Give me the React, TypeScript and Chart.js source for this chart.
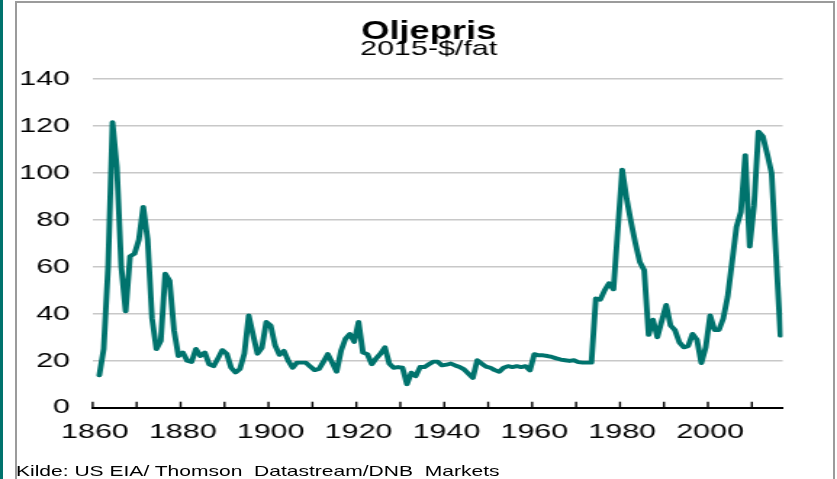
import React, { useEffect, useRef } from "react";
import { Chart, registerables } from "chart.js";

Chart.register(...registerables);

const TITLE = "Oljepris";
const SUBTITLE = "2015-$/fat";
const SOURCE = "Kilde: US EIA/ Thomson  Datastream/DNB  Markets";

const FIRST_YEAR = 1861;
// Oil price, 2015-$ per barrel, 1861..2016
const PRICES = [
  13.8, 25, 60, 121.5, 102.5, 60, 41, 64.5, 65.5, 71.5,
  85.5, 71.5, 38, 25, 28.5, 57, 54, 33, 22, 23.5,
  20, 19.5, 25, 22, 23.5, 18.5, 17.7, 21, 24.5, 23,
  17, 15, 16.5, 23, 39.3, 31, 23, 25.5, 36.5, 35,
  26.5, 22.5, 24.2, 20, 17, 19.2, 19.2, 19.2, 17.5, 16,
  16.5, 19.5, 22.8, 19.2, 15.3, 24.2, 29.3, 31.4, 28, 36.5,
  23.5, 22.8, 18.5, 21, 23, 25.7, 18.8, 17, 17.3, 17,
  10, 14.9, 13.4, 17.3, 17.3, 18.5, 19.6, 19.6, 18, 18.3,
  18.8, 18, 17.3, 16.3, 14.5, 12.7, 20.2, 18.8, 17.5, 17,
  16, 15.3, 17, 17.7, 17.3, 17.7, 17.3, 17.7, 15.9, 22.8,
  22.3, 22.3, 22, 21.6, 21, 20.5, 20.2, 19.9, 20.2, 19.4,
  19.2, 19.2, 19.2, 46.5, 46, 50, 53, 50.4, 76, 101.3,
  89, 79, 70, 62, 58.5, 31, 37.5, 30, 37, 43.7,
  35, 33, 27.8, 25.7, 26.2, 31.4, 29, 19, 25.7, 39.3,
  33.1, 33.1, 38, 47.3, 62, 77, 83.3, 107.5, 68.6, 86,
  117.5, 115.5, 108, 99.8, 65, 30.7,
];
const YEARS = PRICES.map((_, i) => FIRST_YEAR + i);

const X_MIN = 1859.5;
const X_MAX = 2016.5;
const X_LABEL_YEARS = [1860, 1880, 1900, 1920, 1940, 1960, 1980, 2000];
const X_TICK_MARKS = [
  1859.5, 1869.5, 1879.5, 1889.5, 1899.5, 1909.5, 1919.5, 1929.5,
  1939.5, 1949.5, 1959.5, 1969.5, 1979.5, 1989.5, 1999.5, 2009.5,
];
const Y_TICKS = [0, 20, 40, 60, 80, 100, 120, 140];

const TEAL = "#00736d";
const FONT = "'Liberation Sans', Arial, sans-serif";
const W = 577;
const H = 479;
const SX = 837 / W;

const innerTicks = {
  id: "innerTicks",
  afterDatasetsDraw(chart: any) {
    const { ctx, chartArea } = chart;
    const x = chart.scales.x;
    ctx.save();
    ctx.strokeStyle = "#000";
    ctx.lineWidth = 1.4;
    for (const v of X_TICK_MARKS) {
      const px = x.getPixelForValue(v);
      ctx.beginPath();
      ctx.moveTo(px, chartArea.bottom);
      ctx.lineTo(px, chartArea.bottom - 6);
      ctx.stroke();
    }
    ctx.restore();
  },
};

export default function App() {
  const ref = useRef<HTMLCanvasElement | null>(null);

  useEffect(() => {
    if (!ref.current) return;
    const chart = new Chart(ref.current, {
      type: "line",
      data: {
        datasets: [
          {
            data: YEARS.map((y, i) => ({ x: y, y: PRICES[i] })),
            borderColor: TEAL,
            backgroundColor: TEAL,
            borderWidth: 3.9,
            pointRadius: 0,
            tension: 0,
            fill: false,
            borderJoinStyle: "round",
            borderCapStyle: "round",
          } as any,
        ],
      },
      options: {
        animation: false,
        responsive: false,
        devicePixelRatio: 1,
        layout: { padding: { left: 14, right: 0, top: 0, bottom: 30.3 } },
        plugins: {
          legend: { display: false },
          tooltip: { enabled: false },
          title: {
            display: true,
            text: TITLE,
            color: "#000",
            font: { family: FONT, size: 25, weight: "bold", lineHeight: 0.648 },
            padding: { top: 24.4, bottom: 0 },
          },
          subtitle: {
            display: true,
            text: SUBTITLE,
            color: "#000",
            font: { family: FONT, size: 21, weight: "normal", lineHeight: 0.85 },
            padding: { top: 0, bottom: 20.35 },
          },
        },
        scales: {
          x: {
            type: "linear",
            min: X_MIN,
            max: X_MAX,
            afterBuildTicks: (s: any) => {
              s.ticks = X_LABEL_YEARS.map((v) => ({ value: v }));
            },
            ticks: {
              autoSkip: false,
              maxRotation: 0,
              minRotation: 0,
              padding: 3.9,
              color: "#000",
              font: { family: FONT, size: 21 },
              callback: (v: any) => String(v),
            },
            grid: { display: false },
            border: { display: true, color: "#000", width: 2 },
          },
          y: {
            min: 0,
            max: 140,
            afterBuildTicks: (s: any) => {
              s.ticks = Y_TICKS.map((v) => ({ value: v }));
            },
            afterFit: (s: any) => {
              s.width = 49.9;
            },
            ticks: {
              padding: 15.6,
              color: "#000",
              font: { family: FONT, size: 21 },
              callback: (v: any) => String(v),
            },
            grid: {
              color: (c: any) =>
                c.tick && c.tick.value === 0 ? "rgba(0,0,0,0)" : "#c8c8c8",
              lineWidth: 1.5,
              drawTicks: false,
            },
            border: { display: false },
          },
          ySpacer: {
            position: "right",
            display: true,
            min: 0,
            max: 140,
            ticks: { display: false },
            grid: { display: false },
            border: { display: false },
            afterFit: (s: any) => {
              s.width = 37.5;
            },
          },
        },
      } as any,
      plugins: [innerTicks],
    });
    return () => chart.destroy();
  }, []);

  return (
    <div
      style={{
        position: "absolute",
        left: 0,
        top: 0,
        width: 837,
        height: 479,
        overflow: "hidden",
        background: "#fff",
      }}
    >
      <div
        style={{
          position: "absolute",
          left: 0,
          top: 0,
          width: 3,
          height: 479,
          background: TEAL,
        }}
      />
      <div
        style={{
          position: "absolute",
          left: 15,
          top: 1,
          width: 820,
          height: 520,
          border: "2px solid #9b9b9b",
          boxSizing: "border-box",
        }}
      />
      <div
        style={{
          position: "absolute",
          left: 0,
          top: 0,
          width: W,
          height: H,
          transform: `scaleX(${SX})`,
          transformOrigin: "0 0",
        }}
      >
        <canvas ref={ref} width={W} height={H} style={{ display: "block" }} />
        <div
          style={{
            position: "absolute",
            left: 11,
            top: 463.5,
            fontFamily: FONT,
            fontSize: "14.5px",
            lineHeight: "14.5px",
            whiteSpace: "pre",
            color: "#000",
          }}
        >
          {SOURCE}
        </div>
      </div>
    </div>
  );
}
